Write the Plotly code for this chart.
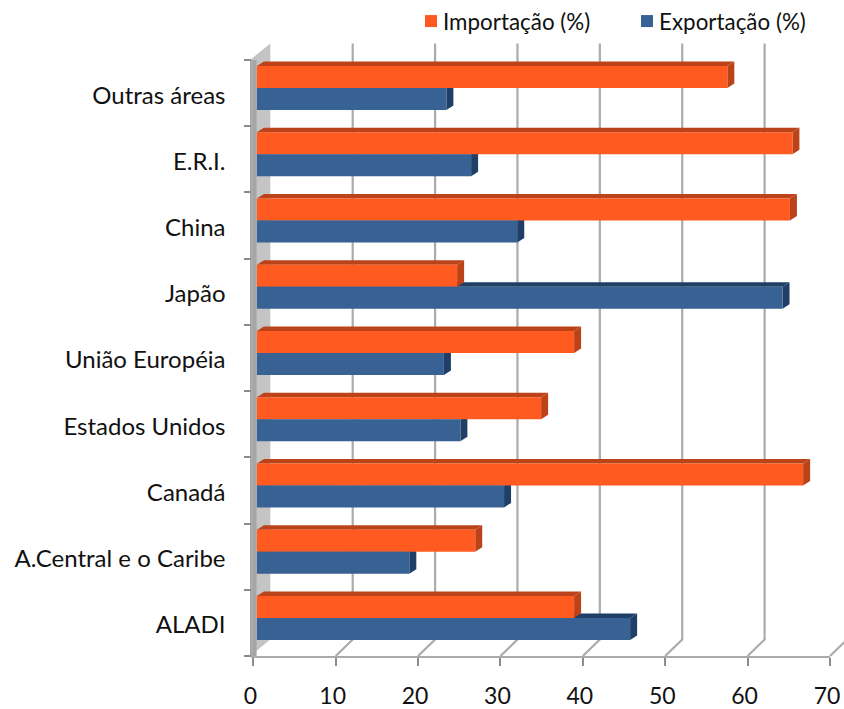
import plotly.graph_objects as go

categories = ["ALADI", "A.Central e o Caribe", "Canadá", "Estados Unidos",
              "União Européia", "Japão", "China", "E.R.I.", "Outras áreas"]
importacao = [38.5, 26.5, 66.3, 34.5, 38.5, 24.3, 64.7, 65.0, 57.1]
exportacao = [45.3, 18.5, 30.0, 24.7, 22.7, 63.8, 31.6, 26.0, 23.0]
x_ticks = [0, 10, 20, 30, 40, 50, 60, 70]

ORANGE, ORANGE_DARK = "#FF5A1F", "#BC421A"
BLUE, BLUE_DARK = "#386194", "#1F3F66"
GRID = "#ababab"
FONT = "Lato"
TEXT = "#111111"

WIDTH, HEIGHT = 844, 709
L, R, T, B = 253.3, 830, 60, 656
PX_X = (R - L) / 70
PX_Y = (B - T) / len(categories)

x_range = [0, 70]
y_range = [-0.5, len(categories) - 0.5]

# depth of the pseudo-3D view, in axis units
WALL_X, WALL_Y = 17 / PX_X, 16.5 / PX_Y
BAR_BASE = 3.6 / PX_X
BAR_DX, BAR_DY = 7 / PX_X, 4.5 / PX_Y
BAR_W = 22 / PX_Y
OFF_I, OFF_E = 5 / PX_Y, -17 / PX_Y

fig = go.Figure()


def poly(xs, ys, color):
    fig.add_trace(go.Scatter(x=xs, y=ys, mode="lines", fill="toself", fillcolor=color,
                             line=dict(width=0, color=color), hoverinfo="skip",
                             showlegend=False))


# left wall
yb, yt = y_range
wl = -3.3 / PX_X
poly([wl, wl, WALL_X, WALL_X, wl], [yb, yt, yt + WALL_Y, yb + WALL_Y, yb], "#c4c4c4")
poly([wl, wl, 0.4, 0.4, wl], [yb, yt, yt, yb, yb], "#a6a6a6")

# gridlines: floor slant, then up the back wall
gx, gy = [], []
for t in x_ticks[1:]:
    gx += [t, t + WALL_X, t + WALL_X, None]
    gy += [yb, yb + WALL_Y, yt + WALL_Y, None]
fig.add_trace(go.Scatter(x=gx, y=gy, mode="lines", line=dict(color=GRID, width=2.2),
                         hoverinfo="skip", showlegend=False))

# bar caps and end faces, drawn under the front faces
for values, off, dark in ((exportacao, OFF_E, BLUE_DARK), (importacao, OFF_I, ORANGE_DARK)):
    for i, v in enumerate(values):
        y0, y1 = i + off, i + off + BAR_W
        end = BAR_BASE + v
        poly([BAR_BASE, BAR_BASE + BAR_DX, end + BAR_DX, end, BAR_BASE],
             [y1, y1 + BAR_DY, y1 + BAR_DY, y1, y1], dark)
        poly([end, end + BAR_DX, end + BAR_DX, end, end],
             [y0, y0 + BAR_DY, y1 + BAR_DY, y1, y0], dark)

# front faces
fig.add_trace(go.Bar(name="Importação (%)", y=categories, x=importacao, base=BAR_BASE,
                     orientation="h", width=BAR_W, offset=OFF_I,
                     marker=dict(color=ORANGE, line=dict(width=0)), xaxis="x2", yaxis="y2"))
fig.add_trace(go.Bar(name="Exportação (%)", y=categories, x=exportacao, base=BAR_BASE,
                     orientation="h", width=BAR_W, offset=OFF_E,
                     marker=dict(color=BLUE, line=dict(width=0)), xaxis="x2", yaxis="y2"))

fig.update_layout(
    width=WIDTH, height=HEIGHT,
    margin=dict(l=0, r=0, t=0, b=0, autoexpand=False),
    paper_bgcolor="white", plot_bgcolor="rgba(0,0,0,0)",
    barmode="overlay",
    font=dict(family=FONT, color=TEXT),
    # full-page axes for the 3D frame, same scale as the chart axes
    xaxis=dict(domain=[0, 1], range=[-L / PX_X, (WIDTH - L) / PX_X], visible=False),
    yaxis=dict(domain=[0, 1], range=[yb - (HEIGHT - B) / PX_Y, yt + T / PX_Y], visible=False),
    xaxis2=dict(domain=[L / WIDTH, R / WIDTH], range=x_range, tickvals=x_ticks, anchor="y2",
                showgrid=False, zeroline=False, automargin=False,
                showline=True, linecolor=GRID, linewidth=2,
                ticks="outside", ticklen=8, tickwidth=1.5, tickcolor="#8c8c8c",
                tickfont=dict(size=23, family=FONT, color=TEXT),
                ticklabelshift=-3, ticklabelstandoff=10),
    yaxis2=dict(domain=[1 - B / HEIGHT, 1 - T / HEIGHT], range=y_range, anchor="x2",
                type="category", categoryorder="array", automargin=False,
                categoryarray=categories, tickson="boundaries", side="left",
                showgrid=False, zeroline=False, showline=True, linecolor=GRID, linewidth=2,
                ticks="outside", ticklen=7, tickwidth=1.5, tickcolor="#8c8c8c",
                tickfont=dict(size=24, family=FONT, color=TEXT),
                ticklabelstandoff=21, ticklabelshift=2),
    legend=dict(orientation="h", xref="container", yref="container",
                x=0.4775, y=1.0, xanchor="left", yanchor="top",
                font=dict(size=22.4, family=FONT, color=TEXT), entrywidth=171,
                itemwidth=30, bgcolor="rgba(0,0,0,0)", traceorder="normal"),
)

page_script = """
document.body.style.margin = '0';
document.querySelectorAll('.legendsymbols').forEach(function (g) {
    g.setAttribute('transform', 'translate(8,0)');
});
"""
fig.write_html("out.html", post_script=page_script, config={"displayModeBar": False})
